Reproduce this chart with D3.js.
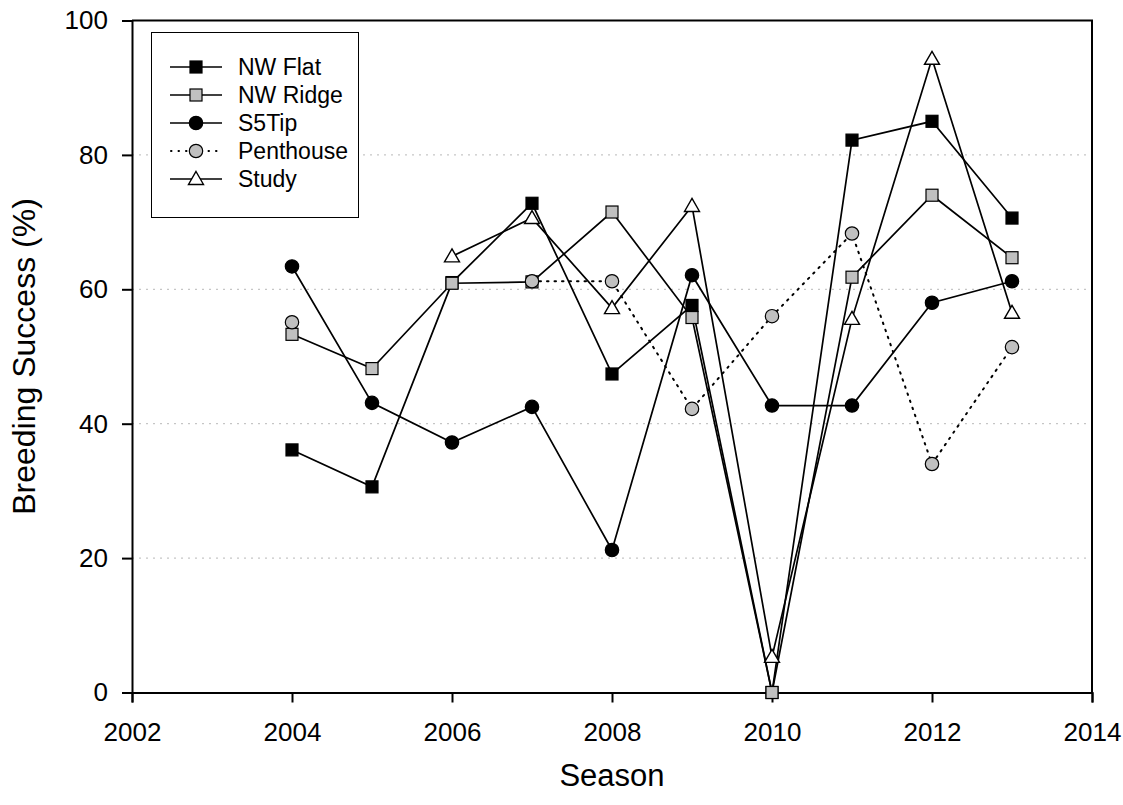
<!DOCTYPE html>
<html>
<head>
<meta charset="utf-8">
<script src="https://cdn.jsdelivr.net/npm/d3@7"></script>
<style>
  html, body { margin: 0; padding: 0; background: #fff; }
  svg { display: block; font-family: "Liberation Sans", Arial, sans-serif; }
</style>
</head>
<body>
<svg id="chart" width="1123" height="805"></svg>
<script>
// Breeding success by site and season
const seasons   = [2004, 2005, 2006, 2007, 2008, 2009, 2010, 2011, 2012, 2013];
const nwFlat    = [36.1, 30.6, 61.0, 72.8, 47.4, 57.6, 0.0, 82.2, 85.0, 70.6];
const nwRidge   = [53.3, 48.2, 60.9, 61.1, 71.5, 55.8, 0.0, 61.8, 74.0, 64.7];
const s5Tip     = [63.4, 43.1, 37.2, 42.5, 21.2, 62.1, 42.7, 42.7, 58.0, 61.2];
const penthouse = [55.1, null, null, 61.2, 61.2, 42.2, 56.0, 68.3, 34.0, 51.4];
const study     = [null, null, 64.9, 70.6, 57.2, 72.4, 5.3, 55.6, 94.3, 56.5];

const xTicks = [2002, 2004, 2006, 2008, 2010, 2012, 2014];
const yTicks = [0, 20, 40, 60, 80, 100];
const gridValues = [20, 40, 60, 80];

const seriesNames = ["NW Flat", "NW Ridge", "S5Tip", "Penthouse", "Study"];
const seriesValues = [nwFlat, nwRidge, s5Tip, penthouse, study];

// symbol / line styling per site
const styles = {
  "NW Flat":   { symbol: "square",   fill: "#000000", dash: null },
  "NW Ridge":  { symbol: "square",   fill: "#c0c0c0", dash: null },
  "S5Tip":     { symbol: "circle",   fill: "#000000", dash: null },
  "Penthouse": { symbol: "circle",   fill: "#c0c0c0", dash: "1.5,6" },
  "Study":     { symbol: "triangle", fill: "#ffffff", dash: null }
};

const svg = d3.select("#chart");
const plotLeft = 132, plotRight = 1092, plotTop = 20.5, plotBottom = 692.5;

const x = d3.scaleLinear().domain([2002, 2014]).range([plotLeft, plotRight]);
const y = d3.scaleLinear().domain([0, 100]).range([plotBottom, plotTop]);

// dotted horizontal grid
svg.append("g")
  .selectAll("line")
  .data(gridValues)
  .join("line")
  .attr("x1", plotLeft).attr("x2", plotRight)
  .attr("y1", d => y(d)).attr("y2", d => y(d))
  .attr("stroke", "#b8b8b8")
  .attr("stroke-width", 1)
  .attr("stroke-dasharray", "2,5");

// frame: top and right edges
svg.append("path")
  .attr("d", `M${plotLeft},${plotTop}H${plotRight}V${plotBottom}`)
  .attr("fill", "none")
  .attr("stroke", "#000")
  .attr("stroke-width", 2);

// axes
const xAxis = svg.append("g")
  .attr("transform", `translate(0,${plotBottom})`)
  .call(d3.axisBottom(x).tickValues(xTicks).tickFormat(d3.format("d")).tickSize(10).tickPadding(20));
const yAxis = svg.append("g")
  .attr("transform", `translate(${plotLeft},0)`)
  .call(d3.axisLeft(y).tickValues(yTicks).tickSize(10).tickPadding(14));

[xAxis, yAxis].forEach(a => {
  a.select(".domain").attr("stroke-width", 2);
  a.selectAll(".tick line").attr("stroke-width", 2);
  a.selectAll("text").attr("font-size", 26).attr("fill", "#000")
    .attr("font-family", "'Liberation Sans', Arial, sans-serif");
});

// axis titles
svg.append("text")
  .attr("x", (plotLeft + plotRight) / 2).attr("y", 786)
  .attr("text-anchor", "middle")
  .attr("font-size", 31)
  .text("Season");

svg.append("text")
  .attr("transform", `translate(35,${(plotTop + plotBottom) / 2}) rotate(-90)`)
  .attr("text-anchor", "middle")
  .attr("font-size", 32)
  .text("Breeding Success (%)");

function drawSymbol(g, kind, fill, cx, cy) {
  if (kind === "square") {
    g.append("rect")
      .attr("x", cx - 6).attr("y", cy - 6)
      .attr("width", 12).attr("height", 12)
      .attr("fill", fill).attr("stroke", "#000").attr("stroke-width", 1.2);
  } else if (kind === "circle") {
    g.append("circle")
      .attr("cx", cx).attr("cy", cy).attr("r", 6.7)
      .attr("fill", fill).attr("stroke", "#000").attr("stroke-width", 1.2);
  } else {
    g.append("path")
      .attr("d", `M${cx},${cy - 7.5}L${cx + 7.5},${cy + 5.5}L${cx - 7.5},${cy + 5.5}Z`)
      .attr("fill", fill).attr("stroke", "#000").attr("stroke-width", 1.4)
      .attr("stroke-linejoin", "miter");
  }
}

const line = d3.line()
  .defined(d => d.v !== null)
  .x(d => x(d.year))
  .y(d => y(d.v));

const plot = svg.append("g");
seriesNames.forEach((name, i) => {
  const st = styles[name];
  const pts = seasons.map((yr, j) => ({ year: yr, v: seriesValues[i][j] }));
  const g = plot.append("g");
  g.append("path")
    .datum(pts)
    .attr("d", line)
    .attr("fill", "none")
    .attr("stroke", "#000")
    .attr("stroke-width", st.dash ? 2 : 1.7)
    .attr("stroke-linecap", st.dash ? "round" : "butt")
    .attr("stroke-dasharray", st.dash);
  pts.filter(d => d.v !== null).forEach(d => drawSymbol(g, st.symbol, st.fill, x(d.year), y(d.v)));
});

// legend
const lg = svg.append("g");
lg.append("rect")
  .attr("x", 151.5).attr("y", 32.5).attr("width", 207).attr("height", 185)
  .attr("fill", "#fff").attr("stroke", "#000").attr("stroke-width", 1);
seriesNames.forEach((name, i) => {
  const st = styles[name];
  const cy = 67 + i * 28;
  lg.append("line")
    .attr("x1", 170).attr("x2", 222).attr("y1", cy).attr("y2", cy)
    .attr("stroke", "#000")
    .attr("stroke-width", st.dash ? 2 : 1.7)
    .attr("stroke-linecap", st.dash ? "round" : "butt")
    .attr("stroke-dasharray", st.dash ? "0.5,7" : null)
    .attr("stroke-dashoffset", st.dash ? -1 : null);
  drawSymbol(lg, st.symbol, st.fill, 196, cy);
  lg.append("text")
    .attr("x", 238).attr("y", cy)
    .attr("dy", "0.36em")
    .attr("font-size", 23)
    .text(name);
});
</script>
</body>
</html>
